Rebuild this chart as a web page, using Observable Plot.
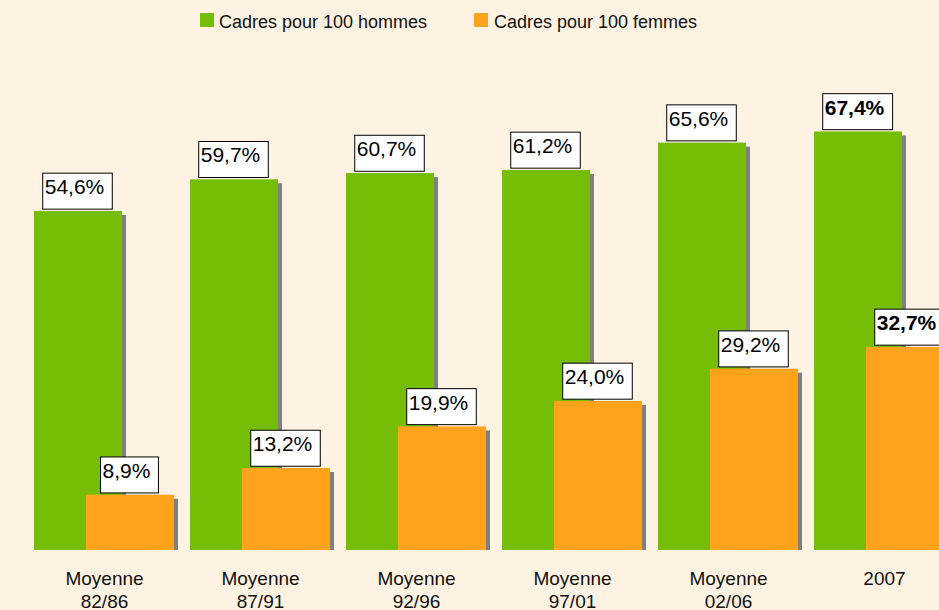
<!DOCTYPE html>
<html>
<head>
<meta charset="utf-8">
<script src="https://cdn.jsdelivr.net/npm/d3@7"></script>
<script src="https://cdn.jsdelivr.net/npm/@observablehq/plot@0.6"></script>
<style>
  html, body { margin: 0; padding: 0; background: #FEF3E2; overflow: hidden; }
  body { width: 939px; height: 610px; font-family: "Liberation Sans", Arial, sans-serif; }
  #legend { position: relative; height: 40px; width: 939px; }
  #legend .sw { position: absolute; top: 13px; width: 14px; height: 14px; }
  #legend .lb { position: absolute; top: 12px; font-size: 18px; line-height: 20px; color: #111; white-space: nowrap; }
</style>
</head>
<body>
<div id="legend"></div>
<div id="chart"></div>
<script>
const categories = ["Moyenne\n82/86", "Moyenne\n87/91", "Moyenne\n92/96", "Moyenne\n97/01", "Moyenne\n02/06", "2007"];
const hommes = [54.6, 59.7, 60.7, 61.2, 65.6, 67.4];
const femmes = [8.9, 13.2, 19.9, 24.0, 29.2, 32.7];
const seriesNames = ["Cadres pour 100 hommes", "Cadres pour 100 femmes"];
const colors = ["#76BD07", "#FFA31C"];

const fmt = v => v.toFixed(1).replace(".", ",") + "%";
const rowsH = categories.map((c, i) => ({cat: c, v: hommes[i], label: fmt(hommes[i]), bold: c === "2007"}));
const rowsF = categories.map((c, i) => ({cat: c, v: femmes[i], label: fmt(femmes[i]), bold: c === "2007"}));

// Legend
const legend = document.getElementById("legend");
const legendPos = [[200, 219], [474, 494]];
seriesNames.forEach((name, i) => {
  const sw = document.createElement("div");
  sw.className = "sw"; sw.style.left = legendPos[i][0] + "px"; sw.style.background = colors[i];
  const lb = document.createElement("div");
  lb.className = "lb"; lb.style.left = legendPos[i][1] + "px"; lb.textContent = name;
  legend.appendChild(sw); legend.appendChild(lb);
});

const base = 510, pxPer = 6.21;
const labelFont = {fontSize: 21, fill: "#000", fontFamily: "Liberation Sans, Arial, sans-serif"};

function labels(rows, dx, bold) {
  return Plot.text(rows.filter(d => d.bold === bold), {
    x: "cat", y: "v", text: "label", dx: dx, dy: -24,
    fontWeight: bold ? "bold" : "normal", ariaDescription: "boxlabel", ...labelFont
  });
}

const plot = Plot.plot({
  width: 939,
  height: 570,
  marginBottom: 60,
  marginLeft: 0,
  marginRight: 0,
  style: {background: "transparent", fontFamily: "Liberation Sans, Arial, sans-serif", overflow: "hidden"},
  x: {type: "band", domain: categories, range: [33, 955], paddingInner: 16 / 156, paddingOuter: 0, label: null},
  y: {domain: [0, 80], range: [base, base - 80 * pxPer], axis: null},
  marks: [
    Plot.barY(rowsH, {x: "cat", y: "v", insetRight: 52, insetTop: 4, dx: 4, fill: "#808080"}),
    Plot.barY(rowsH, {x: "cat", y: "v", insetRight: 52, fill: colors[0]}),
    Plot.barY(rowsF, {x: "cat", y: "v", insetLeft: 52, insetTop: 4, dx: 4, fill: "#808080"}),
    Plot.barY(rowsF, {x: "cat", y: "v", insetLeft: 52, fill: colors[1]}),
    labels(rowsH, -30, false),
    labels(rowsH, -30, true),
    labels(rowsF, 22, false),
    labels(rowsF, 22, true),
    Plot.axisX({tickSize: 0, tickPadding: 19, fontSize: 19, lineHeight: 1.17, fill: "#111", label: null})
  ]
});
document.getElementById("chart").appendChild(plot);

// Framed label boxes drawn behind each label text
plot.querySelectorAll('g[aria-description="boxlabel"] text').forEach(t => {
  const bb = t.getBBox();
  const r = document.createElementNS("http://www.w3.org/2000/svg", "rect");
  r.setAttribute("x", bb.x - 2);
  r.setAttribute("y", bb.y - 2);
  r.setAttribute("width", bb.width + 10);
  r.setAttribute("height", 36);
  r.setAttribute("fill", "#fff");
  r.setAttribute("stroke", "#000");
  r.setAttribute("stroke-width", 1);
  if (t.getAttribute("transform")) r.setAttribute("transform", t.getAttribute("transform"));
  t.parentNode.insertBefore(r, t);
});
</script>
</body>
</html>
